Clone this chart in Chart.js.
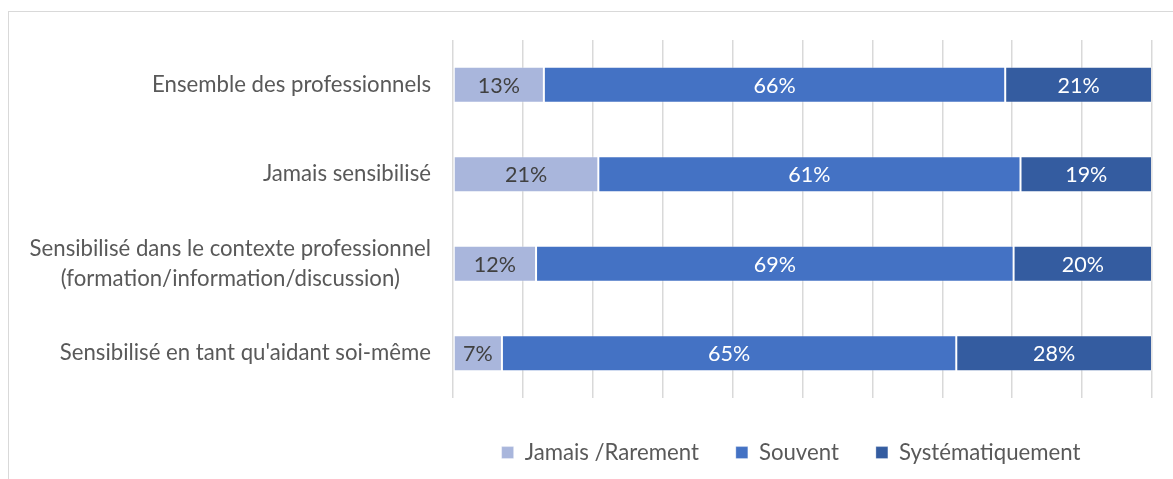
<!DOCTYPE html>
<html lang="fr">
<head>
<meta charset="utf-8">
<script src="https://cdn.jsdelivr.net/npm/chart.js@4.4.1/dist/chart.umd.min.js"></script>
<style>
    html, body { margin: 0; padding: 0; background: #fff; overflow: hidden; }
    #frame { position: absolute; left: 8px; top: 11px; width: 1200px; height: 500px; border: 1px solid #d9d9d9; }
    #wrap { position: absolute; left: 0; top: 0; width: 1173px; height: 479px; }
</style>
</head>
<body>
<div id="frame"></div>
<div id="wrap"><canvas id="myBarChart"></canvas></div>
<script>
const categories = [
    'Ensemble des professionnels',
    'Jamais sensibilisé',
    ['Sensibilisé dans le contexte professionnel', '(formation/information/discussion)'],
    "Sensibilisé en tant qu'aidant soi-même"
];
const seriesNames = ['Jamais /Rarement', 'Souvent', 'Systématiquement'];
const jamais = [13, 21, 12, 7];
const souvent = [66, 61, 69, 65];
const systematique = [21, 19, 20, 28];
const xTicks = [0, 10, 20, 30, 40, 50, 60, 70, 80, 90, 100];

const colors = ['#a9b6dc', '#4472c4', '#345ca0'];
const labelColors = ['#404040', '#ffffff', '#ffffff'];
const FONT = 'Lato, "Liberation Sans", sans-serif';
const FSIZE = 22.2;
const VSIZE = 21.5;

const raw = [jamais, souvent, systematique];
// 100% stacked: each row is scaled so its parts fill the full width
const totals = categories.map((c, i) => jamais[i] + souvent[i] + systematique[i]);

const labelPlugin = {
    id: 'labels',
    afterDraw(chart) {
        const ctx = chart.ctx;
        const yScale = chart.scales.y;
        ctx.save();
        ctx.textBaseline = 'middle';
        ctx.textAlign = 'center';
        // category labels: block right-aligned, lines centred inside the block
        ctx.font = FSIZE + 'px ' + FONT;
        ctx.fillStyle = '#595959';
        categories.forEach((lab, i) => {
            const lines = Array.isArray(lab) ? lab : [lab];
            const yc = yScale.getPixelForValue(i);
            const w = Math.max(...lines.map(l => ctx.measureText(l).width));
            const cx = chart.chartArea.left - 22 - w / 2;
            lines.forEach((l, j) => {
                ctx.fillText(l, cx, yc + (j - (lines.length - 1) / 2) * 30);
            });
        });
        // value labels in the bars
        ctx.font = VSIZE + 'px ' + FONT;
        chart.data.datasets.forEach((ds, d) => {
            const meta = chart.getDatasetMeta(d);
            ctx.fillStyle = labelColors[d];
            meta.data.forEach((bar, i) => {
                const p = bar.getCenterPoint();
                ctx.fillText(raw[d][i] + '%', p.x, p.y + 1);
            });
        });
        ctx.restore();
    }
};

document.addEventListener('DOMContentLoaded', () => {
    const ctx = document.getElementById('myBarChart').getContext('2d');
    new Chart(ctx, {
        type: 'bar',
        data: {
            labels: categories,
            datasets: seriesNames.map((name, d) => ({
                label: name,
                data: raw[d].map((v, i) => v / totals[i] * 100),
                backgroundColor: colors[d],
                borderColor: 'rgba(255, 255, 255, 0.3)',
                borderWidth: 1,
                borderSkipped: false,
                barPercentage: 0.8,
                categoryPercentage: 0.5
            }))
        },
        options: {
            indexAxis: 'y',
            responsive: true,
            maintainAspectRatio: false,
            animation: false,
            // big left padding keeps the legend centred under the plot area
            layout: { padding: { left: 430, right: 21, top: 40, bottom: 5.3 } },
            scales: {
                x: {
                    stacked: true,
                    min: 0,
                    max: 100,
                    afterBuildTicks: (scale) => { scale.ticks = xTicks.map(v => ({ value: v })); },
                    afterFit: (scale) => { scale.height = 6.5; },
                    ticks: { display: false },
                    grid: { color: '#d9d9d9', lineWidth: 1.5, drawTicks: false },
                    border: { display: false }
                },
                y: {
                    stacked: true,
                    ticks: { display: false },
                    grid: { display: false },
                    border: { display: false },
                    afterFit: (scale) => { scale.width = 23; }
                }
            },
            plugins: {
                legend: {
                    position: 'bottom',
                    labels: {
                        boxWidth: 12,
                        boxHeight: 12,
                        padding: 37,
                        color: '#595959',
                        font: { family: FONT, size: FSIZE }
                    }
                },
                tooltip: { enabled: false }
            }
        },
        plugins: [labelPlugin]
    });
});
</script>
</body>
</html>
